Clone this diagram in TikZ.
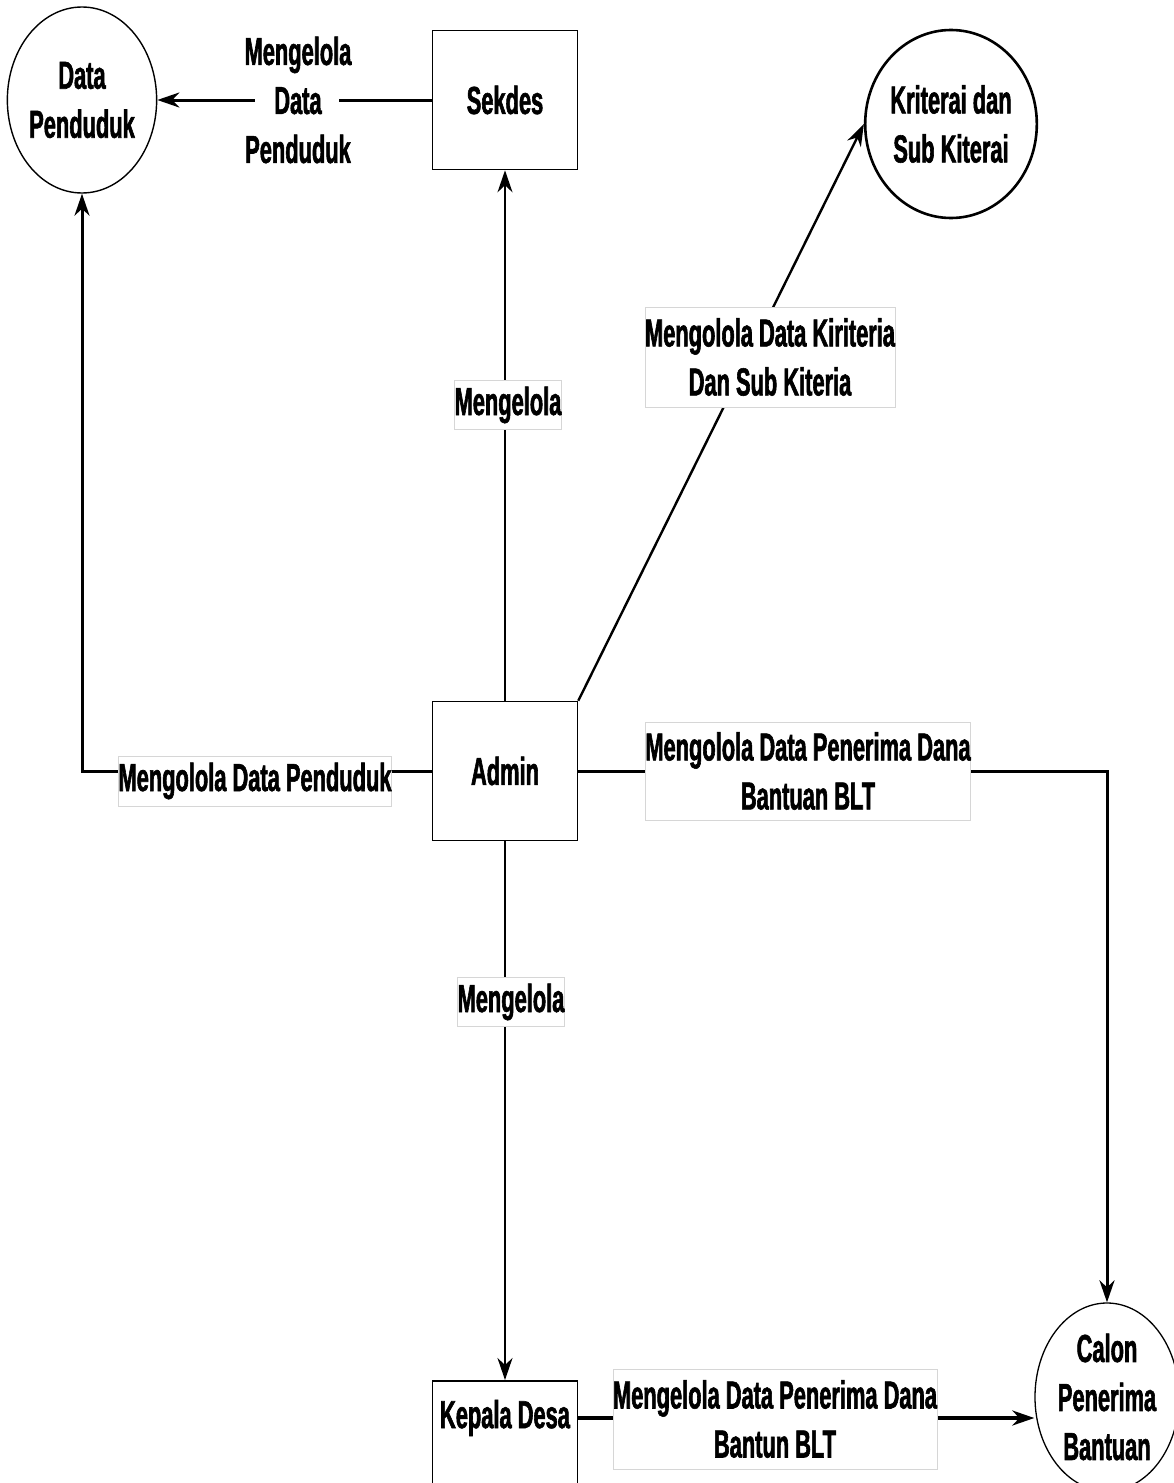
\documentclass[tikz,border=0pt]{standalone}
\usepackage{fontspec}
\setmainfont{Liberation Sans}[FakeStretch=0.56, BoldFeatures={FakeBold=1.5}]
\usetikzlibrary{arrows.meta,shapes.geometric}
\begin{document}
\begin{tikzpicture}[x=1pt,y=-1pt,
  every node/.style={font=\fontsize{39}{49}\selectfont\bfseries, align=center},
  proc/.style={draw, line width=1.6pt, minimum width=145pt, minimum height=139pt, inner sep=0pt},
  store/.style={draw, ellipse, inner sep=0pt},
  lbl/.style={fill=white, draw=black!16, line width=0.9pt, inner sep=0pt},
  flow/.style={-{Stealth[length=22pt,width=15pt,inset=7pt]}},
]
\useasboundingbox (0,0) rectangle (1174,1483);
\clip (0,0) rectangle (1174,1483);

% entities and data stores
\node[store, line width=1.4pt, minimum width=146pt, minimum height=186pt] (pend) at (82,100) {Data\\Penduduk};
\node[proc] (sekdes) at (505,100) {Sekdes};
\node[store, line width=2.6pt, minimum width=148pt, minimum height=188pt] (krit) at (951,124) {Kriterai dan\\Sub Kiterai};
\node[proc] (admin) at (505,771) {Admin};
\node[draw, line width=1.6pt, minimum width=145pt, minimum height=150pt, anchor=north] (kepala) at (505,1380) {};
\node (kepalatext) at (505,1418) {Kepala Desa};
\node[store, line width=1.3pt, minimum width=144pt, minimum height=188pt] (calon) at (1107,1397) {Calon\\Penerima\\Bantuan};

% Sekdes -> Data Penduduk
\draw[flow, line width=3pt] (sekdes.west) -- (pend.east);
\node[fill=white, minimum width=84pt, minimum height=30pt, inner sep=0pt] at (297,100) {};
\node (lab1) at (298,100) {Mengelola\\Data\\Penduduk};

% Admin -> Sekdes
\draw[flow, line width=2pt] (admin.north) -- (sekdes.south);
\node[lbl, minimum width=105pt, minimum height=49pt] (lab2) at (508,405) {Mengelola};

% Admin -> Kriteria
\draw[flow, line width=2.4pt] (admin.north east) -- (krit.west);
\node[lbl, minimum width=248pt, minimum height=100pt] (lab3) at (770,357) {Mengolola Data Kiriteria\\Dan Sub Kiteria};

% Admin -> Data Penduduk
\draw[flow, line width=3pt] (admin.west) -| (pend.south);
\node[lbl, minimum width=272pt, minimum height=50pt] (lab4) at (255,781) {Mengolola Data Penduduk};

% Admin -> Calon Penerima
\draw[flow, line width=3pt] (admin.east) -| (calon.north);
\node[lbl, minimum width=324pt, minimum height=98pt] (lab5) at (808,771) {Mengolola Data Penerima Dana\\Bantuan BLT};

% Admin -> Kepala Desa
\draw[flow, line width=2pt] (admin.south) -- (kepala.north);
\node[lbl, minimum width=106pt, minimum height=49pt] (lab6) at (511,1002) {Mengelola};

% Kepala Desa -> Calon Penerima
\draw[flow, line width=3.6pt] (kepalatext -| kepala.east) -- (kepalatext -| calon.west);
\node[lbl, minimum width=324pt, minimum height=100pt] (lab7) at (775,1419) {Mengelola Data Penerima Dana\\Bantun BLT};
\end{tikzpicture}
\end{document}
